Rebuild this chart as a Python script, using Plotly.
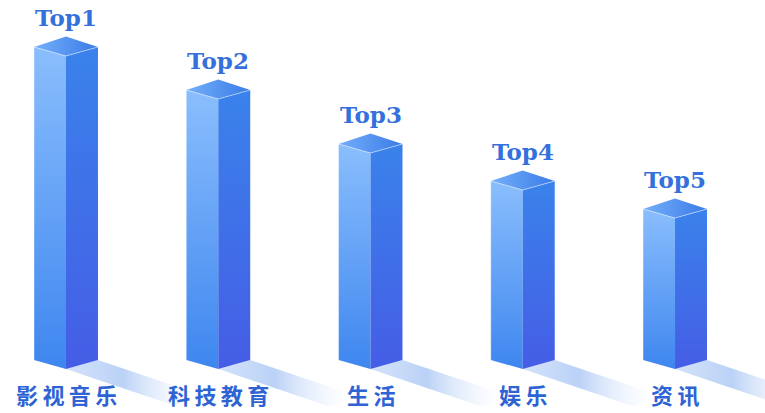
import plotly.graph_objects as go

# Category names, values and rank labels
categories = ["影视音乐", "科技教育", "生活", "娱乐", "资讯"]
values = [313, 270, 216, 179, 151]
ranks = ["Top1", "Top2", "Top3", "Top4", "Top5"]

# Pseudo-3D prism geometry (x in category units, y in value units)
HALF_W = 0.21      # half of the visible front width
DEPTH_DN = 9       # drop of the front edge below the side corners
DEPTH_UP = 10.5    # rise of the back corner above the side corners
SHADOW_DX = 0.72   # shadow length along x
SHADOW_DY = 37     # shadow drop along y

LABEL_COLOR = "#2d63d3"
RANK_COLOR = "#3471dc"

fig = go.Figure()


def poly(xs, ys, gradient, line=None):
    fig.add_trace(go.Scatter(
        x=xs + [xs[0]], y=ys + [ys[0]], mode="lines", fill="toself",
        fillgradient=gradient,
        line=line or dict(width=0, color="rgba(0,0,0,0)"),
        hoverinfo="skip", showlegend=False,
    ))


for i, v in enumerate(values):
    c = i
    # floor shadow, fading away to the lower right
    poly(
        [c, c + HALF_W, c + HALF_W + SHADOW_DX, c + SHADOW_DX],
        [0, DEPTH_DN, DEPTH_DN - SHADOW_DY, -SHADOW_DY],
        dict(type="horizontal", start=c, stop=c + HALF_W + SHADOW_DX,
             colorscale=[[0, "rgba(175,203,245,0.55)"],
                         [0.4, "rgba(150,185,242,0.65)"],
                         [1, "rgba(255,255,255,0)"]]),
    )
    # left (lit) face
    poly(
        [c - HALF_W, c, c, c - HALF_W],
        [DEPTH_DN, 0, v, v + DEPTH_DN],
        dict(type="vertical", start=0, stop=v + DEPTH_DN,
             colorscale=[[0, "#3e86ef"], [1, "#8abefd"]]),
    )
    # right (shaded) face
    poly(
        [c, c + HALF_W, c + HALF_W, c],
        [0, DEPTH_DN, v + DEPTH_DN, v],
        dict(type="vertical", start=0, stop=v + DEPTH_DN,
             colorscale=[[0, "#455de5"], [1, "#3a82eb"]]),
    )
    # top face
    poly(
        [c - HALF_W, c, c + HALF_W, c],
        [v + DEPTH_DN, v + DEPTH_DN + DEPTH_UP, v + DEPTH_DN, v],
        dict(type="horizontal", start=c - HALF_W, stop=c + HALF_W,
             colorscale=[[0, "#74aff9"], [1, "#3a7be8"]]),
    )
    # soft highlight along the front top edges and the left edge
    fig.add_trace(go.Scatter(
        x=[c - HALF_W, c, c + HALF_W], y=[v + DEPTH_DN, v, v + DEPTH_DN],
        mode="lines", line=dict(color="rgba(255,255,255,0.45)", width=1),
        hoverinfo="skip", showlegend=False,
    ))
    fig.add_trace(go.Scatter(
        x=[c - HALF_W, c - HALF_W], y=[DEPTH_DN, v + DEPTH_DN],
        mode="lines", line=dict(color="rgba(255,255,255,0.35)", width=1),
        hoverinfo="skip", showlegend=False,
    ))

    # rank label above the prism
    fig.add_annotation(
        x=c, y=v + DEPTH_DN + DEPTH_UP + 19, text=ranks[i],
        showarrow=False, xanchor="center", yanchor="middle",
        font=dict(family="DejaVu Serif", size=23, color=RANK_COLOR, weight="bold"),
    )
    # category label below the prism
    fig.add_annotation(
        x=c, y=-25, text="\u2009".join(categories[i]),
        showarrow=False, xanchor="center", yanchor="middle",
        font=dict(family="Noto Sans CJK SC", size=22, color=LABEL_COLOR, weight="bold"),
    )

fig.update_layout(
    width=765, height=413,
    margin=dict(l=0, r=0, t=0, b=0),
    paper_bgcolor="white", plot_bgcolor="white",
    xaxis=dict(range=[-0.4335, 4.591], visible=False, fixedrange=True),
    yaxis=dict(range=[-44, 369], visible=False, fixedrange=True),
    showlegend=False,
)

fig.write_html("out.html")
